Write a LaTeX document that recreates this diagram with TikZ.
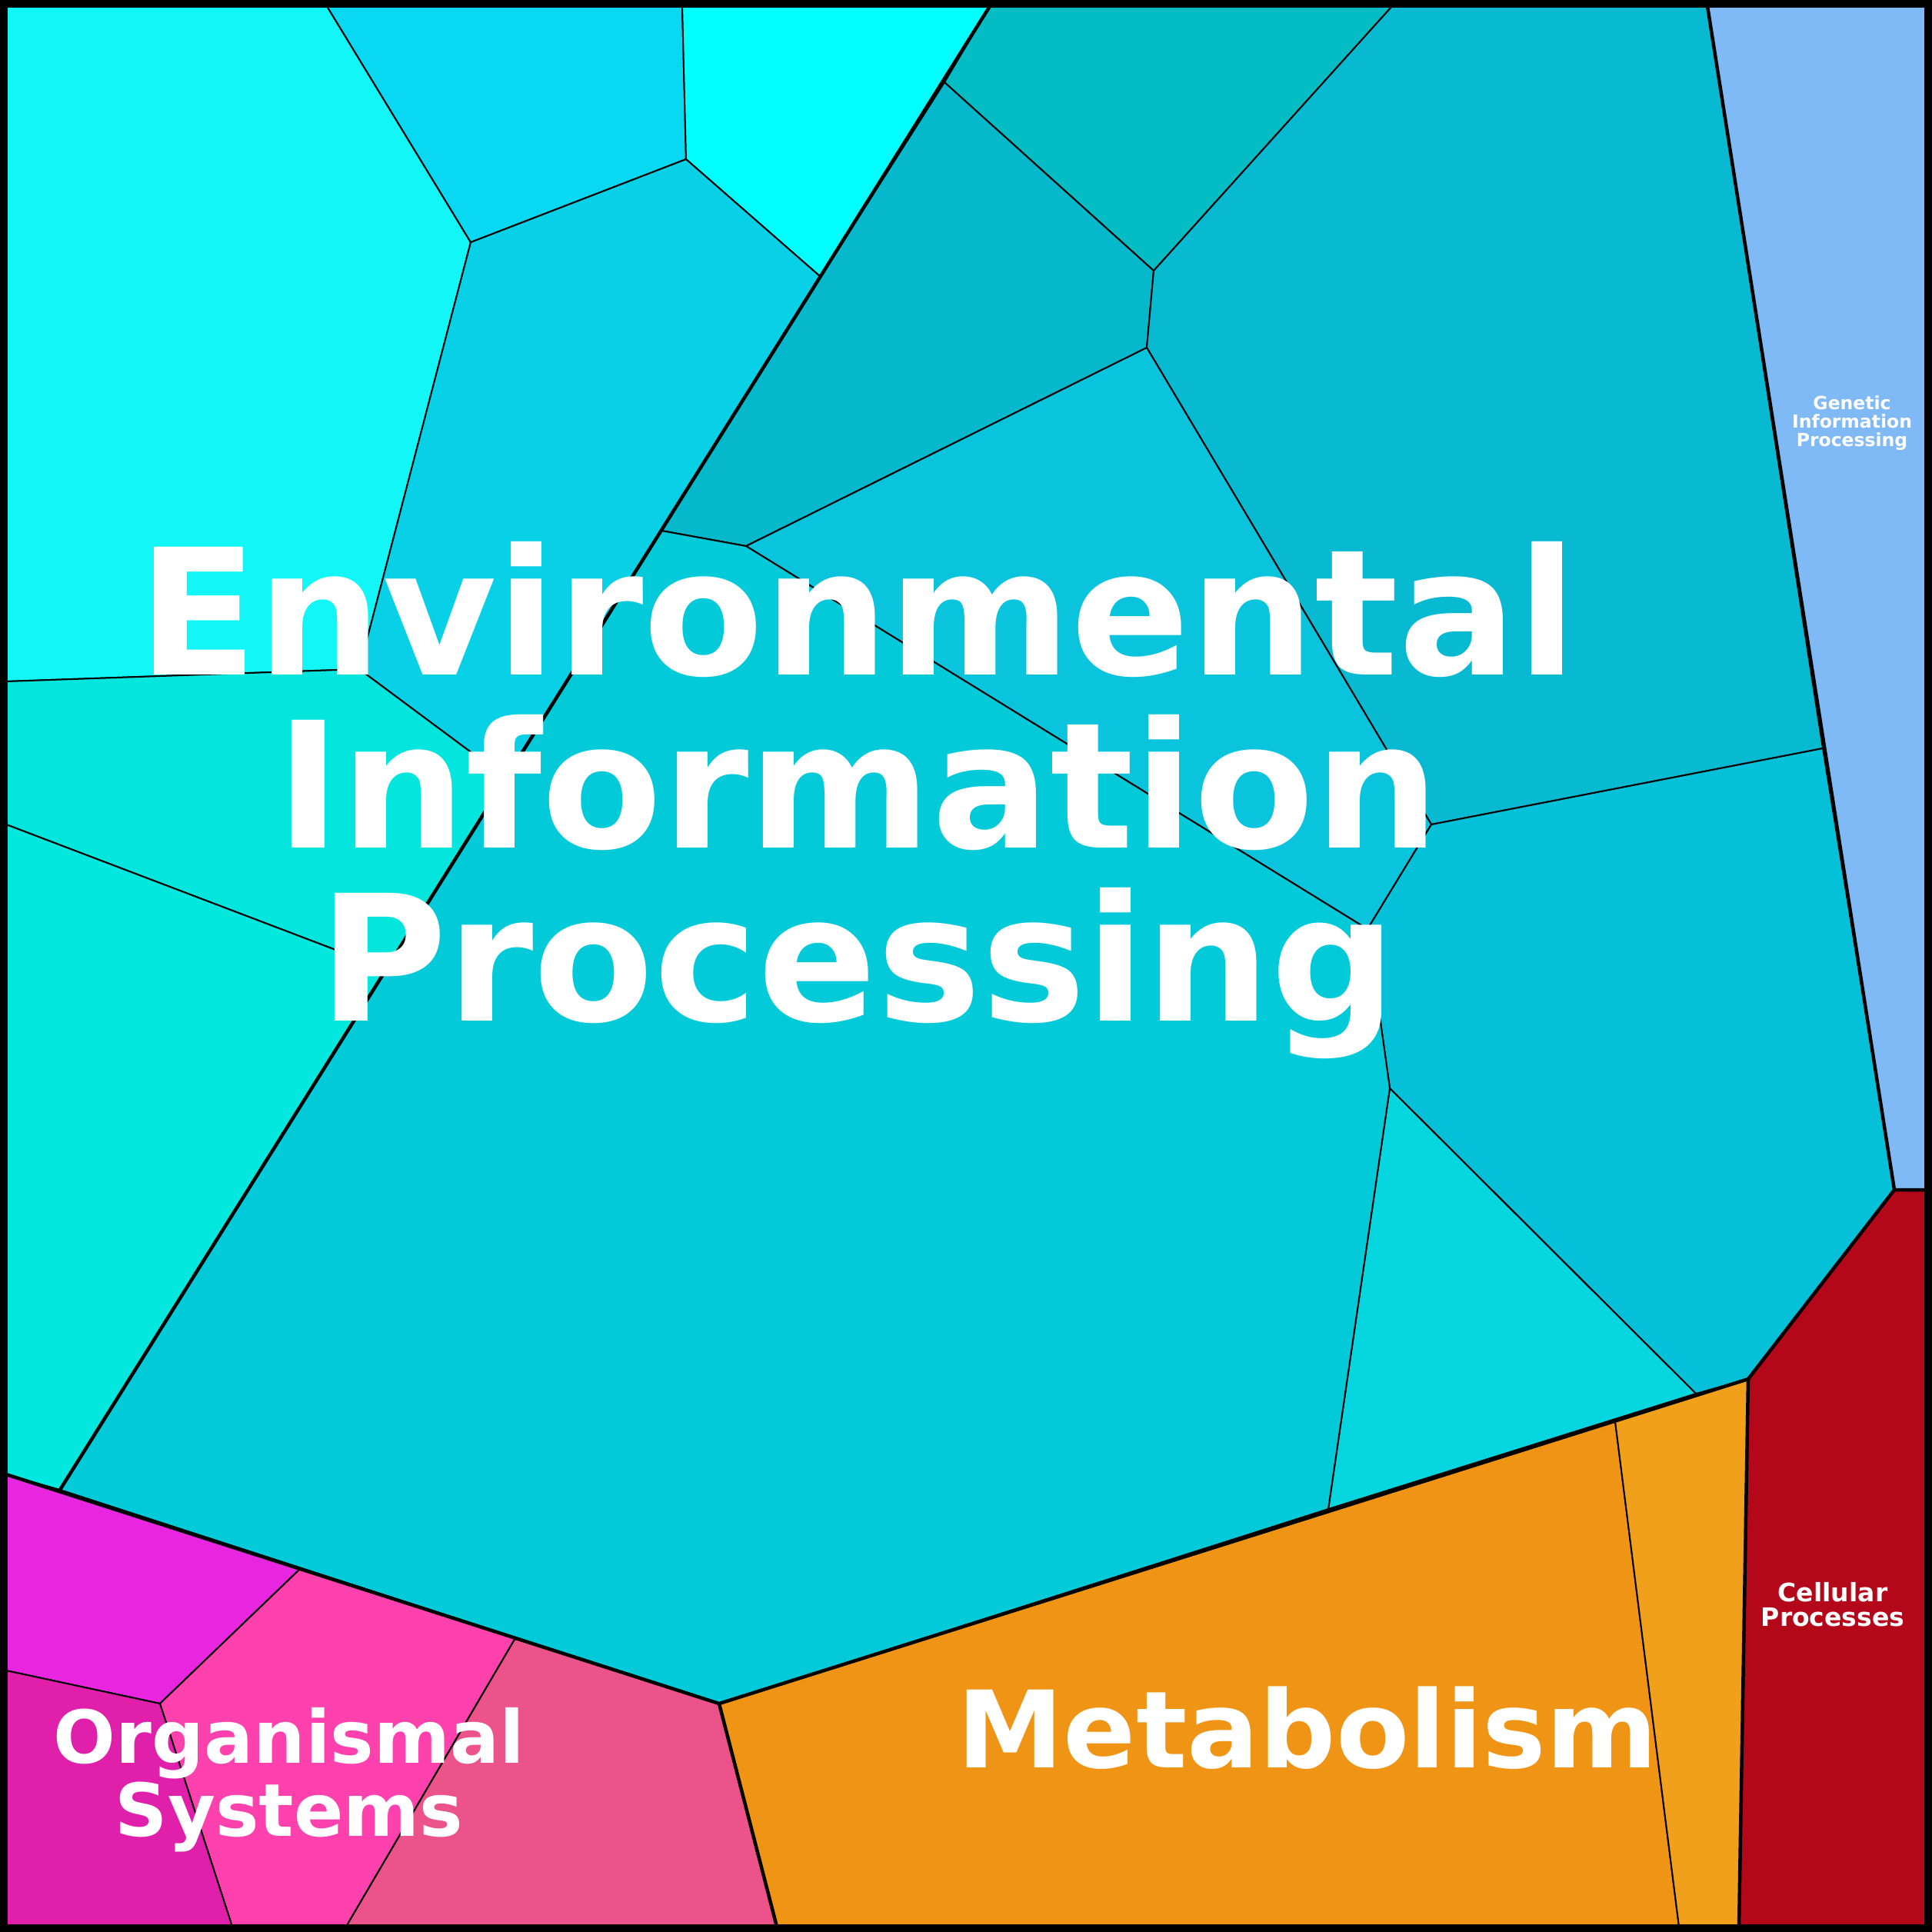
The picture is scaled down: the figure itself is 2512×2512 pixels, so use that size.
\documentclass[tikz,border=0pt]{standalone}
\usepackage{fontspec}
\setmainfont{DejaVu Sans}
\begin{document}
\begin{tikzpicture}[x=1pt,y=-1pt,
  cell/.style={draw=black,line width=2pt,line join=round},
  major/.style={draw=black,line width=4.5pt,line join=round},
  lbl/.style={text=white,font=\bfseries,inner sep=0pt,align=center}]
\useasboundingbox (0,0) rectangle (2512,2512);
%Environmental cells
\fill[cell,fill={rgb,255:red,18;green,246;blue,248}] (8,8) -- (425,8) -- (612,315) -- (467,870) -- (8,886) -- cycle;
\fill[cell,fill={rgb,255:red,8;green,216;blue,242}] (425,8) -- (887,8) -- (892,207) -- (612,315) -- cycle;
\fill[cell,fill={rgb,255:red,0;green,255;blue,255}] (887,8) -- (1287,8) -- (1067,360) -- (892,207) -- cycle;
\fill[cell,fill={rgb,255:red,8;green,208;blue,230}] (612,315) -- (892,207) -- (1067,360) -- (658,1012) -- (467,870) -- cycle;
\fill[cell,fill={rgb,255:red,4;green,189;blue,196}] (1287,8) -- (1810,8) -- (1500,352) -- (1228,107) -- cycle;
\fill[cell,fill={rgb,255:red,5;green,184;blue,204}] (1228,107) -- (1500,352) -- (1491,452) -- (970,710) -- (860,690) -- (1067,360) -- cycle;
\fill[cell,fill={rgb,255:red,8;green,185;blue,210}] (1810,8) -- (2220,8) -- (2370,973) -- (1861,1072) -- (1491,452) -- (1500,352) -- cycle;
\fill[cell,fill={rgb,255:red,10;green,195;blue,221}] (970,710) -- (1491,452) -- (1861,1072) -- (1778,1208) -- cycle;
\fill[cell,fill={rgb,255:red,4;green,192;blue,216}] (1861,1072) -- (2370,973) -- (2463,1547) -- (2273,1793) -- (2205,1812) -- (1807,1415) -- (1778,1208) -- cycle;
\fill[cell,fill={rgb,255:red,6;green,214;blue,224}] (1807,1415) -- (2205,1812) -- (1727,1962) -- cycle;
\fill[cell,fill={rgb,255:red,3;green,202;blue,216}] (860,690) -- (970,710) -- (1778,1208) -- (1807,1415) -- (1727,1962) -- (935,2215) -- (78,1937) -- (502,1260) -- (658,1012) -- cycle;
\fill[cell,fill={rgb,255:red,2;green,230;blue,222}] (8,886) -- (467,870) -- (658,1012) -- (502,1260) -- (8,1072) -- cycle;
\fill[cell,fill={rgb,255:red,3;green,232;blue,222}] (8,1072) -- (502,1260) -- (78,1937) -- (8,1917) -- cycle;
%Other groups
\fill[cell,fill={rgb,255:red,127;green,185;blue,246}] (2220,8) -- (2505,8) -- (2505,1547) -- (2463,1547) -- cycle;
\fill[cell,fill={rgb,255:red,181;green,7;blue,26}] (2463,1547) -- (2505,1547) -- (2505,2505) -- (2261,2505) -- (2273,1793) -- cycle;
\fill[cell,fill={rgb,255:red,240;green,148;blue,22}] (935,2215) -- (2100,1848) -- (2183,2505) -- (1010,2505) -- cycle;
\fill[cell,fill={rgb,255:red,240;green,160;blue,26}] (2100,1848) -- (2273,1793) -- (2261,2505) -- (2183,2505) -- cycle;
\fill[cell,fill={rgb,255:red,232;green,38;blue,224}] (8,1917) -- (390,2040) -- (208,2215) -- (8,2172) -- cycle;
\fill[cell,fill={rgb,255:red,255;green,65;blue,174}] (390,2040) -- (670,2130) -- (450,2505) -- (302,2505) -- (208,2215) -- cycle;
\fill[cell,fill={rgb,255:red,236;green,83;blue,138}] (670,2130) -- (935,2215) -- (1010,2505) -- (450,2505) -- cycle;
\fill[cell,fill={rgb,255:red,224;green,32;blue,170}] (8,2172) -- (208,2215) -- (302,2505) -- (8,2505) -- cycle;
%Group borders
\draw[major] (1287,8) -- (78,1937);
\draw[major] (2220,8) -- (2463,1547) -- (2505,1547);
\draw[major] (8,1917) -- (935,2215) -- (2273,1793) -- (2463,1547);
\draw[major] (935,2215) -- (1010,2505);
\draw[major] (2273,1793) -- (2261,2505);
\draw[line width=10pt] (5,5) rectangle (2507,2507);
%Text
\node[lbl,font=\bfseries\fontsize{228}{225}\selectfont] (env) at (1115,1040) {Environmental\\Information\\Processing};
\node[lbl,font=\bfseries\fontsize{139}{139}\selectfont,anchor=base] (met) at (1700,2298) {Metabolism};
\node[lbl,font=\bfseries\fontsize{95}{95}\selectfont] (org) at (376,2314) {Organismal\\Systems};
\node[lbl,font=\bfseries\fontsize{33}{32}\selectfont] (cel) at (2383,2086) {Cellular\\Processes};
\node[lbl,font=\bfseries\fontsize{23.5}{24}\selectfont] (gen) at (2408,550) {Genetic\\Information\\Processing};
\end{tikzpicture}
\end{document}
